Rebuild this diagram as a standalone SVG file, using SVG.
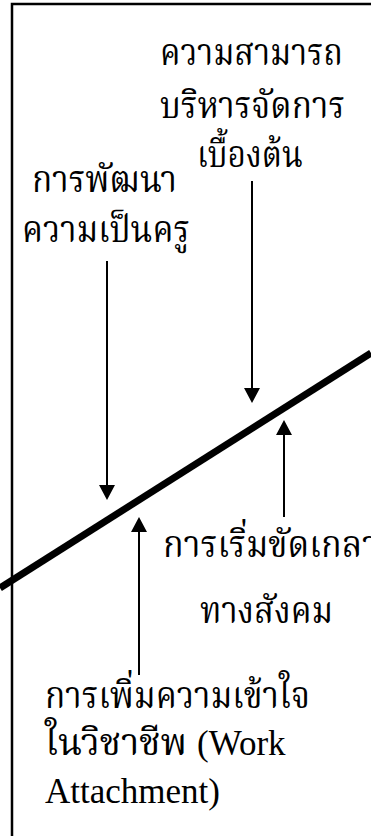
<svg xmlns="http://www.w3.org/2000/svg" width="371" height="836" viewBox="0 0 371 836">
<defs>
<style>
text{font-family:"Liberation Serif","Noto Serif Thai","Noto Sans Thai",serif;font-size:37px;fill:#000}
.l{font-size:35px}
.a{stroke:#000;stroke-width:2;fill:none}
</style>
</defs>
<rect x="0" y="0" width="371" height="836" fill="#fff"/>
<path d="M12,836 L12,4 L371,4" fill="none" stroke="#000" stroke-width="2.5"/>
<g id="connectors">
<line id="slope" x1="0" y1="588" x2="371" y2="353" stroke="#000" stroke-width="7"/>
<line class="a" x1="107" y1="261" x2="107" y2="486"/>
<path d="M99,485 L115,485 L107,500 Z"/>
<line class="a" x1="252" y1="181" x2="252" y2="389"/>
<path d="M244,388 L260,388 L252,403 Z"/>
<line class="a" x1="284" y1="434" x2="284" y2="517"/>
<path d="M276,435 L292,435 L284,420 Z"/>
<line class="a" x1="139" y1="531" x2="139" y2="675"/>
<path d="M131,532 L147,532 L139,517 Z"/>
</g>
<g id="n1">
<text x="160" y="65" textLength="183" lengthAdjust="spacingAndGlyphs">ความสามารถ</text>
<text x="160" y="118" textLength="185" lengthAdjust="spacingAndGlyphs">บริหารจัดการ</text>
<text x="197" y="167" textLength="106" lengthAdjust="spacingAndGlyphs">เบื้องต้น</text>
</g>
<g id="n2">
<text x="32" y="192" textLength="145" lengthAdjust="spacingAndGlyphs">การพัฒนา</text>
<text x="22" y="242" textLength="168" lengthAdjust="spacingAndGlyphs">ความเป็นครู</text>
</g>
<g id="n3">
<text x="163" y="557" textLength="216" lengthAdjust="spacingAndGlyphs">การเริ่มขัดเกลา</text>
<text x="200" y="623" textLength="133" lengthAdjust="spacingAndGlyphs">ทางสังคม</text>
</g>
<g id="n4">
<text x="45" y="708" textLength="265" lengthAdjust="spacingAndGlyphs">การเพิ่มความเข้าใจ</text>
<text x="45" y="755"><tspan textLength="142" lengthAdjust="spacingAndGlyphs">ในวิชาชีพ</tspan><tspan class="l" x="197">(Work</tspan></text>
<text class="l" x="45" y="803">Attachment)</text>
</g>
</svg>
